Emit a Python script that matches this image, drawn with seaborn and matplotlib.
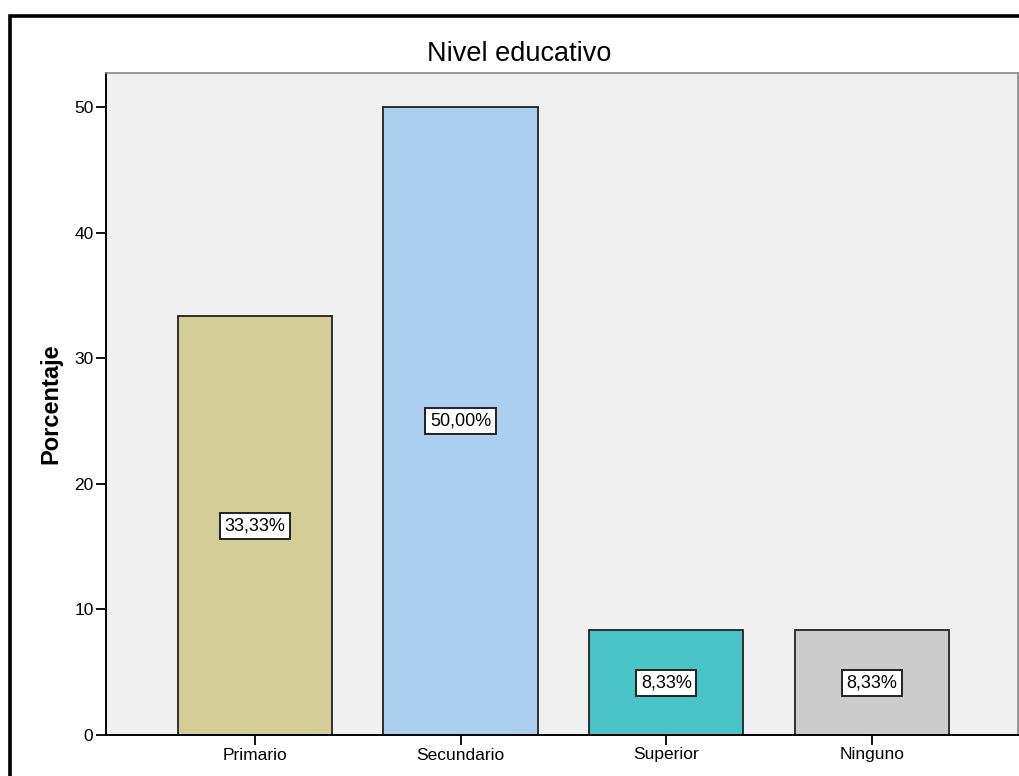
import matplotlib
matplotlib.use("Agg")
import matplotlib.pyplot as plt
import matplotlib.patches as mpatches
import seaborn as sns
import pandas as pd

categories = ["Primario", "Secundario", "Superior", "Ninguno"]
values = [33.33, 50.00, 8.33, 8.33]
colors = ["#D3CE97", "#ABCFEE", "#48C4C7", "#CCCCCC"]
yticks = [0, 10, 20, 30, 40, 50]
title = "Nivel educativo"
ylabel = "Porcentaje"

sns.set_theme(style="white")
plt.rcParams["font.family"] = ["Liberation Sans", "DejaVu Sans"]
for k in ["text.color", "axes.labelcolor", "xtick.color", "ytick.color"]:
    plt.rcParams[k] = "black"

W, H = 1019, 776
fig = plt.figure(figsize=(W / 100, H / 100), dpi=100)
ax = fig.add_axes([106 / W, (H - 735) / H, (1018 - 106) / W, (735 - 73) / H])
ax.set_facecolor("#F0F0F0")

df = pd.DataFrame({"cat": categories, "val": values})
sns.barplot(data=df, x="cat", y="val", hue="cat", palette=colors, legend=False,
            width=0.75, edgecolor="#222222", linewidth=1.3, saturation=1, ax=ax)

for cont in ax.containers:
    labs = [f"{v:.2f}".replace(".", ",") + "%" for v in cont.datavalues]
    ax.bar_label(cont, labels=labs, label_type="center", fontsize=13,
                 color="black",
                 bbox=dict(boxstyle="square,pad=0.25", facecolor="white",
                           edgecolor="#222222", linewidth=1.4))

ax.set_xlim(-0.724, 3.71)
ax.set_ylim(0, 52.7)
ax.set_yticks(yticks)
ax.set_xlabel("")
ax.set_ylabel(ylabel, fontsize=17, fontweight="bold")
ax.yaxis.set_label_coords((62 - 106) / 912, 0.5)
ax.set_title(title, fontsize=19.5, pad=8.6, x=(519.5 - 106) / 912, color="black")

ax.tick_params(axis="both", which="both", direction="out", length=7, width=1.3,
               color="black", labelsize=12.5, pad=2, left=True, bottom=True)
for s in ["left", "bottom"]:
    ax.spines[s].set_color("black")
    ax.spines[s].set_linewidth(1.4)
for s in ["top", "right"]:
    ax.spines[s].set_color("#888888")
    ax.spines[s].set_linewidth(1.2)

rect = mpatches.Rectangle((10 / W, -0.05), 1.2, 1 - 15.5 / H + 0.05,
                          transform=fig.transFigure, fill=False,
                          edgecolor="black", linewidth=2.6, clip_on=False)
fig.patches.append(rect)

fig.savefig("out.png", dpi=100, facecolor="white")
